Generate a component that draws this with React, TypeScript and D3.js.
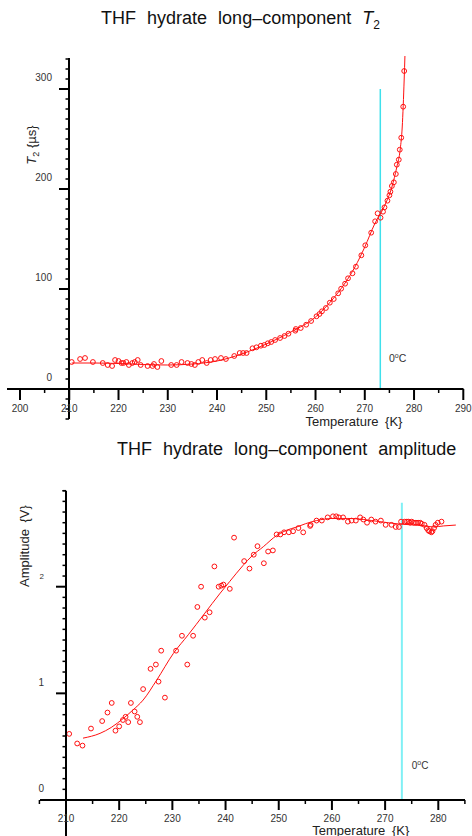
import React from "react";
import * as d3 from "d3";

// ---------- Top chart: T2 vs temperature ----------
const topT = [210.5, 212.2, 213.2, 214.8, 216.8, 217.8, 218.7, 219.3, 220.0, 220.6, 221.0, 221.6, 222.1, 222.8, 223.3, 223.9, 224.5, 225.9, 226.9, 227.2, 227.9, 228.7, 230.7, 231.8, 232.8, 234.0, 234.8, 235.5, 236.2, 237.0, 237.9, 238.7, 239.6, 240.8, 241.8, 243.5, 244.6, 245.3, 246.0, 247.2, 248.0, 248.9, 249.6, 250.3, 251.0, 251.8, 252.8, 253.7, 254.5, 255.9, 256.0, 257.0, 258.1, 259.1, 260.2, 260.8, 261.3, 262.1, 262.9, 263.7, 264.6, 265.2, 266.0, 266.6, 267.5, 268.2, 269.3, 270.1, 271.3, 272.1, 272.6, 273.2, 273.7, 274.0, 274.6, 275.0, 275.2, 275.5, 275.9, 276.3, 276.5, 276.9, 277.1, 277.4, 277.8, 278.0];
const topV = [27, 30, 31, 27, 26, 24, 23, 29, 28, 26, 26, 27, 24, 26, 27, 29, 24, 23, 23, 25, 22, 28, 24, 24, 27, 26, 25, 24, 27, 29, 26, 29, 30, 31, 30, 33, 36, 36, 36, 40.7, 41.7, 43.3, 44, 45.7, 47, 49, 51, 53, 55.3, 58.3, 60, 61, 64.3, 68, 72.7, 75, 77.7, 81, 86.3, 90, 95.7, 100.3, 105.3, 110.7, 115.7, 122.3, 133.7, 143.7, 156.3, 167.7, 175.7, 171.3, 177.3, 181.7, 188.3, 193.7, 197.3, 203, 206.7, 215, 224.3, 229.3, 239.3, 251.3, 282.3, 318];
const topFitT = [210.5, 215, 220, 225, 230, 235, 240, 245, 250, 255, 260, 263, 266, 268, 270, 272, 274, 275.5, 276.5, 277.2, 277.6, 278.0, 278.15];
const topFitV = [26, 26, 25.5, 24.5, 24, 25, 28, 35, 45, 57, 72, 87, 106, 122, 142, 165, 183, 202, 222, 240, 262, 310, 333];
const topXTicks = [200, 210, 220, 230, 240, 250, 260, 270, 280, 290];
const topYTicks = [0, 100, 200, 300];

// ---------- Bottom chart: amplitude vs temperature ----------
const botT = [210.6, 212.1, 213.1, 214.7, 216.8, 217.8, 218.6, 219.3, 220.0, 220.7, 221.2, 221.7, 222.2, 222.9, 223.4, 223.9, 224.5, 225.9, 226.9, 227.4, 227.9, 228.6, 230.7, 231.8, 232.8, 233.9, 234.7, 235.4, 236.1, 237.0, 237.9, 238.7, 239.2, 239.6, 240.8, 241.6, 243.5, 244.5, 245.3, 246.0, 247.2, 248.0, 248.9, 249.6, 250.3, 251.0, 251.9, 252.7, 253.7, 254.6, 255.9, 256.0, 257.1, 258.1, 259.2, 260.2, 260.8, 261.3, 262.1, 263.0, 263.7, 264.5, 265.3, 265.9, 266.6, 267.4, 268.2, 269.2, 270.1, 271.2, 272.0, 272.6, 273.0, 273.7, 274.1, 274.4, 274.7, 275.0, 275.4, 275.8, 276.2, 276.6, 276.9, 277.4, 277.8, 278.1, 278.3, 278.7, 278.9, 279.2, 279.5, 279.9, 280.6];
const botA = [0.62, 0.53, 0.51, 0.67, 0.74, 0.82, 0.91, 0.65, 0.69, 0.75, 0.78, 0.73, 0.91, 0.83, 0.78, 0.73, 1.04, 1.23, 1.27, 1.11, 1.40, 0.96, 1.40, 1.54, 1.27, 1.54, 1.81, 2.00, 1.71, 1.76, 2.19, 2.00, 2.01, 2.02, 1.98, 2.46, 2.24, 2.17, 2.30, 2.38, 2.22, 2.33, 2.34, 2.49, 2.49, 2.51, 2.51, 2.52, 2.55, 2.51, 2.57, 2.58, 2.62, 2.62, 2.65, 2.66, 2.66, 2.65, 2.65, 2.61, 2.62, 2.62, 2.65, 2.63, 2.60, 2.63, 2.61, 2.62, 2.58, 2.58, 2.56, 2.56, 2.61, 2.61, 2.61, 2.61, 2.60, 2.61, 2.60, 2.60, 2.60, 2.60, 2.59, 2.58, 2.55, 2.53, 2.52, 2.51, 2.52, 2.55, 2.58, 2.60, 2.61];
const botFitT = [213.2, 216.4, 218.5, 220.8, 222.5, 224.5, 227, 230.2, 233, 236, 239, 240.8, 243.3, 245, 247.1, 249.6, 251.5, 253.4, 255, 257.1, 260.2, 263, 266, 269, 272.8, 275, 277.2, 279, 281, 283.3];
const botFitA = [0.58, 0.625, 0.68, 0.766, 0.84, 0.937, 1.12, 1.375, 1.55, 1.745, 1.94, 2.05, 2.2, 2.29, 2.375, 2.48, 2.53, 2.56, 2.59, 2.62, 2.64, 2.64, 2.63, 2.61, 2.587, 2.58, 2.572, 2.56, 2.57, 2.578];
const botXTicks = [210, 220, 230, 240, 250, 260, 270, 280];
const botYTicks = [0, 1, 2];

const FONT = "'Liberation Sans', Arial, sans-serif";
const RED = "#ff1010";
const LABEL = "#333";

export default function App() {
  // top scales
  const xT = d3.scaleLinear().domain([200, 290]).range([20, 463.3]);
  const yT = d3.scaleLinear().domain([0, 300]).range([389, 89]);
  // bottom scales
  const xB = d3.scaleLinear().domain([210, 280]).range([66, 438.3]);
  const yB = d3.scaleLinear().domain([0, 2]).range([800, 586.7]);

  const topFitLine = d3
    .line<number>()
    .x((_, i) => xT(topFitT[i]))
    .y((d) => yT(d))
    .curve(d3.curveMonotoneX)(topFitV);
  const botFitLine = d3
    .line<number>()
    .x((_, i) => xB(botFitT[i]))
    .y((d) => yB(d))
    .curve(d3.curveMonotoneX)(botFitA);

  const topMinorY = d3.range(-30, 331, 10).filter((v) => v % 100 !== 0);
  const topMinorX = d3.range(205, 290, 10);
  const botMinorY = d3.range(1, 30, 1).filter((v) => v % 10 !== 0).map((v) => v / 10);
  const botMinorX = d3.range(205, 290, 10);

  return (
    <svg
      width={472}
      height={836}
      style={{ position: "absolute", left: 0, top: 0, background: "#fff" }}
      fontFamily={FONT}
    >
      {/* ================= TOP CHART ================= */}
      <text x={240.5} y={24} textAnchor="middle" fontSize={18} wordSpacing={6} fill="#111">
        THF hydrate long–component <tspan fontStyle="italic">T</tspan>
        <tspan fontSize={12} dy={5}>2</tspan>
      </text>

      {/* cyan 0°C line */}
      <line x1={xT(273.15)} x2={xT(273.15)} y1={yT(300)} y2={yT(0)} stroke="#3fe0ec" strokeWidth={1.5} />
      <text x={389} y={362} fontSize={10.5} fill={LABEL}>
        0<tspan fontSize={7} dy={-4}>o</tspan>
        <tspan dy={4}>C</tspan>
      </text>

      {/* fit + points */}
      <path d={topFitLine || ""} fill="none" stroke={RED} strokeWidth={1} />
      {topT.map((t, i) => (
        <circle key={"tp" + i} cx={xT(t)} cy={yT(topV[i])} r={2.4} fill="none" stroke={RED} strokeWidth={1} />
      ))}

      {/* y axis */}
      <line x1={69} x2={69} y1={yT(331)} y2={yT(-30)} stroke="#000" strokeWidth={2} />
      {topYTicks.map((v) => (
        <g key={"tyt" + v}>
          <line x1={59} x2={69} y1={yT(v)} y2={yT(v)} stroke="#000" strokeWidth={2} />
          <text x={52} y={yT(v) - 12} dy="0.35em" textAnchor="end" fontSize={10} fill={LABEL}>
            {v}
          </text>
        </g>
      ))}
      {topMinorY.map((v) => (
        <line key={"tym" + v} x1={65.5} x2={69} y1={yT(v)} y2={yT(v)} stroke="#000" strokeWidth={1.5} />
      ))}
      <text transform={`translate(36,145) rotate(-90)`} textAnchor="middle" fontSize={13} fill="#222">
        <tspan fontStyle="italic">T</tspan>
        <tspan fontSize={9} dy={3}>2</tspan>
        <tspan dy={-3}>{"  {µs}"}</tspan>
      </text>

      {/* x axis */}
      <line x1={7} x2={463.5} y1={389} y2={389} stroke="#000" strokeWidth={2} />
      {topXTicks.map((t) => (
        <g key={"txt" + t}>
          <line x1={xT(t)} x2={xT(t)} y1={389} y2={400} stroke="#000" strokeWidth={2} />
          <text x={xT(t)} y={408} dy="0.35em" textAnchor="middle" fontSize={10} fill={LABEL}>
            {t}
          </text>
        </g>
      ))}
      {topMinorX.map((t) => (
        <line key={"txm" + t} x1={xT(t)} x2={xT(t)} y1={389} y2={393} stroke="#000" strokeWidth={1.5} />
      ))}
      <text x={354} y={426} textAnchor="middle" fontSize={13} fill="#222" wordSpacing={3}>
        {"Temperature {K}"}
      </text>

      {/* ================= BOTTOM CHART ================= */}
      <text x={286.7} y={455} textAnchor="middle" fontSize={18} wordSpacing={6} fill="#111">
        THF hydrate long–component amplitude
      </text>

      <line x1={xB(273.15)} x2={xB(273.15)} y1={502.7} y2={yB(0)} stroke="#80f0f5" strokeWidth={2} />
      <text x={411.7} y={769.3} fontSize={10} fill={LABEL}>
        0<tspan fontSize={7} dy={-4}>o</tspan>
        <tspan dy={4}>C</tspan>
      </text>

      <path d={botFitLine || ""} fill="none" stroke={RED} strokeWidth={1} />
      {botT.map((t, i) => (
        <circle key={"bp" + i} cx={xB(t)} cy={yB(botA[i])} r={2.4} fill="none" stroke={RED} strokeWidth={1} />
      ))}

      {/* y axis */}
      <line x1={66} x2={66} y1={yB(2.9)} y2={836} stroke="#000" strokeWidth={2} />
      {botYTicks.map((v) => (
        <g key={"byt" + v}>
          <line x1={56} x2={66} y1={yB(v)} y2={yB(v)} stroke="#000" strokeWidth={2} />
          <text
            x={44}
            y={yB(v) - (v === 0 ? 12 : 10.5)}
            dy="0.35em"
            textAnchor="end"
            fontSize={v === 2 ? 8 : 10}
            fill={LABEL}
          >
            {v}
          </text>
        </g>
      ))}
      {botMinorY.map((v) => (
        <line key={"bym" + v} x1={62.5} x2={66} y1={yB(v)} y2={yB(v)} stroke="#000" strokeWidth={1.5} />
      ))}
      <line x1={62.5} x2={66} y1={yB(2.9)} y2={yB(2.9)} stroke="#000" strokeWidth={1.5} />
      <text transform={`translate(28.5,546) rotate(-90)`} textAnchor="middle" fontSize={13} fill="#222" wordSpacing={3}>
        {"Amplitude {V}"}
      </text>

      {/* x axis */}
      <line x1={40} x2={465} y1={800} y2={800} stroke="#000" strokeWidth={2} />
      {botXTicks.map((t) => (
        <g key={"bxt" + t}>
          <line x1={xB(t)} x2={xB(t)} y1={800} y2={810} stroke="#000" strokeWidth={2} />
          <text x={xB(t)} y={818} dy="0.35em" textAnchor="middle" fontSize={10} fill={LABEL}>
            {t}
          </text>
        </g>
      ))}
      {botMinorX.map((t) => (
        <line key={"bxm" + t} x1={xB(t)} x2={xB(t)} y1={800} y2={804} stroke="#000" strokeWidth={1.5} />
      ))}
      <text x={360.8} y={834.5} textAnchor="middle" fontSize={13} fill="#222" wordSpacing={3}>
        {"Temperature {K}"}
      </text>
    </svg>
  );
}
